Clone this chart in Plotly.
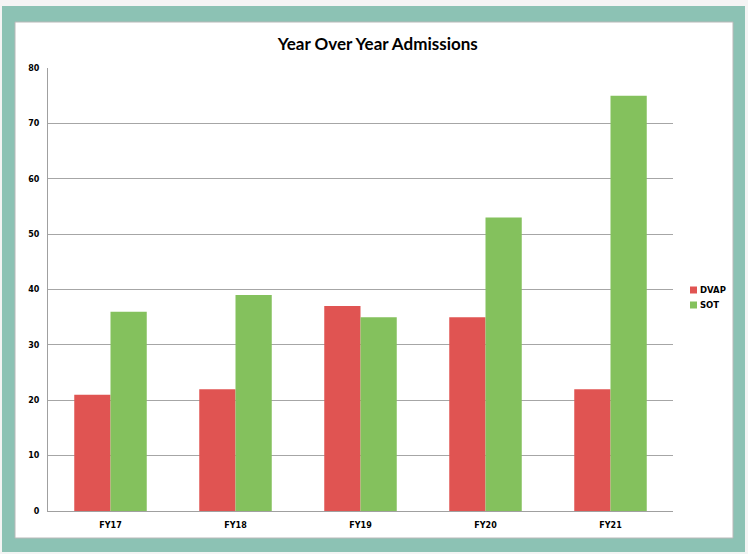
import plotly.graph_objects as go

# Admissions by fiscal year
categories = ["FY17", "FY18", "FY19", "FY20", "FY21"]
dvap = [21, 22, 37, 35, 22]
sot = [36, 39, 35, 53, 75]
y_ticks = [0, 10, 20, 30, 40, 50, 60, 70, 80]
series_names = ["DVAP", "SOT"]

RED = "#e05452"
GREEN = "#84c15d"
TEAL = "#8cc2b4"

W, H = 748, 554
ML, MR, MT, MB = 48, 75, 68, 43
PW, PH = W - ML - MR, H - MT - MB


def px_x(px):
    return (px - ML) / PW


def px_y(py):
    return (H - MB - py) / PH


fig = go.Figure()
fig.add_trace(go.Bar(name=series_names[0], x=categories, y=dvap,
                     marker=dict(color=RED, line_width=0)))
fig.add_trace(go.Bar(name=series_names[1], x=categories, y=sot,
                     marker=dict(color=GREEN, line_width=0)))

shapes = [
    # teal frame
    dict(type="rect", xref="paper", yref="paper", layer="below",
         x0=px_x(2), x1=px_x(745), y0=px_y(552), y1=px_y(6),
         fillcolor=TEAL, line_width=0),
    # white chart card
    dict(type="rect", xref="paper", yref="paper", layer="below",
         x0=px_x(15), x1=px_x(733), y0=px_y(538), y1=px_y(22),
         fillcolor="white", line=dict(color="#b8b8b8", width=1)),
]

# compact legend: small colour keys with labels beside them
annotations = []
for i, (name, col) in enumerate(zip(series_names, [RED, GREEN])):
    cy = 290 + i * 15
    shapes.append(dict(type="rect", xref="paper", yref="paper",
                       x0=px_x(690), x1=px_x(697), y0=px_y(cy + 3.5), y1=px_y(cy - 3.5),
                       fillcolor=col, line_width=0))
    annotations.append(dict(text=f"<b>{name}</b>", xref="paper", yref="paper",
                            x=px_x(698), y=px_y(cy), xanchor="left", yanchor="middle",
                            showarrow=False,
                            font=dict(family="DejaVu Sans", size=8.5, color="black")))

fig.update_layout(
    width=W, height=H,
    margin=dict(l=ML, r=MR, t=MT, b=MB, autoexpand=False),
    paper_bgcolor="#f4f4f4",
    plot_bgcolor="rgba(0,0,0,0)",
    barmode="group",
    bargap=0.42,
    bargroupgap=0,
    showlegend=False,
    shapes=shapes,
    annotations=annotations,
    title=dict(text="<b>Year Over Year Admissions</b>", x=0.505, xref="container",
               y=1 - 44 / H, yref="container", yanchor="middle", xanchor="center",
               font=dict(family="Lato", size=17, color="black")),
    font=dict(family="DejaVu Sans", size=8, color="black"),
)

fig.update_xaxes(showgrid=False, showline=True, linecolor="#a0a0a0", linewidth=1,
                 ticks="", tickfont=dict(family="DejaVu Sans", size=8, weight="bold"),
                 ticklabelstandoff=6)
fig.update_yaxes(range=[0, 80], tickvals=y_ticks, showgrid=True, gridcolor="#a6a6a6",
                 gridwidth=1, showline=True, linecolor="#a0a0a0", linewidth=1,
                 zeroline=False, ticks="",
                 tickfont=dict(family="DejaVu Sans", size=8, weight="bold"),
                 ticklabelstandoff=6)

fig.write_html("out.html")
